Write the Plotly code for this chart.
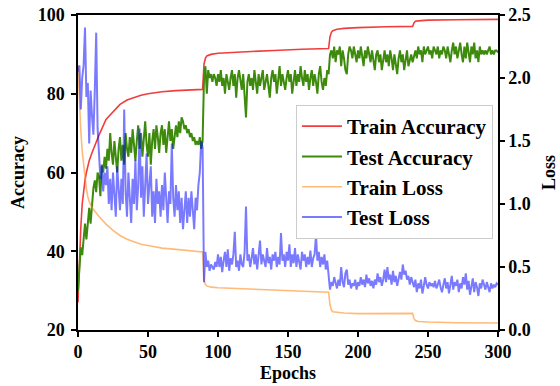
import plotly.graph_objects as go

# ---- data ----
train_epochs = [0, 1, 2, 3, 4, 5, 6, 7, 8, 10, 12, 15, 20, 25, 30, 35, 40, 45, 50, 60, 70, 80, 89,
                90, 91, 92, 95, 100, 120, 140, 160, 179,
                180, 181, 182, 185, 190, 200, 220, 239,
                240, 241, 243, 245, 250, 270, 300]
train_acc = [27, 38, 46, 52, 55.5, 58, 60, 61.5, 63, 65, 67, 69.5, 73.5, 75.5, 77.3, 78.4, 79.1, 79.6, 80, 80.5, 80.8, 81, 81.1,
             87.5, 89, 89.6, 90, 90.3, 90.7, 91, 91.3, 91.5,
             94.5, 95.6, 96, 96.4, 96.6, 96.8, 97, 97.1,
             98, 98.4, 98.5, 98.6, 98.7, 98.8, 98.9]
train_loss = [2.1, 1.8, 1.58, 1.42, 1.3, 1.2, 1.12, 1.06, 1.02, 0.97, 0.94, 0.9, 0.84, 0.79, 0.75, 0.72, 0.7, 0.68, 0.67, 0.65, 0.64, 0.63, 0.62,
              0.4, 0.36, 0.35, 0.34, 0.335, 0.325, 0.315, 0.305, 0.3,
              0.2, 0.16, 0.145, 0.14, 0.135, 0.13, 0.13, 0.132,
              0.09, 0.075, 0.068, 0.065, 0.063, 0.058, 0.055]

test_epochs = list(range(0, 301))
test_acc = [
    30, 36, 41, 39, 44, 47, 43, 48, 51, 47,
    53, 56, 58, 55, 60, 59, 54, 62, 60, 64,
    61, 66, 63, 70, 65, 62, 68, 64, 60, 66,
    69, 63, 67, 62, 70, 66, 64, 69, 65, 71,
    67, 63, 68, 72, 66, 70, 64, 69, 73, 67,
    64, 70, 62, 68, 71, 66, 72, 69, 65, 70,
    72, 67, 71, 65, 69, 73, 68, 71, 66, 70,
    72, 69, 73, 70, 74, 73, 71, 72, 70, 71,
    69, 70, 68, 69, 67, 68, 67, 69, 66, 68,
    84, 87, 80, 86, 84, 85, 83, 85, 84, 82,
    85, 83, 86, 82, 84, 80, 85, 83, 81, 84,
    86, 82, 85, 79, 84, 86, 83, 81, 85, 80,
    74, 83, 85, 82, 84, 81, 86, 83, 80, 85,
    82, 84, 86, 81, 83, 85, 82, 79, 84, 86,
    83, 85, 80, 84, 87, 82, 85, 83, 81, 84,
    86, 83, 85, 80, 84, 86, 82, 85, 83, 87,
    84, 82, 86, 83, 85, 81, 84, 86, 82, 85,
    83, 80, 85, 87, 83, 81, 84, 82, 86, 85,
    90, 91, 89, 92, 88, 91, 90, 92, 87, 91,
    89, 86, 85, 90, 92, 91, 89, 92, 90, 88,
    91, 89, 92, 90, 87, 91, 89, 92, 90, 88,
    91, 89, 86, 90, 91, 88, 90, 86, 89, 91,
    88, 90, 87, 91, 89, 86, 90, 88, 85, 89,
    91, 88, 90, 86, 89, 91, 87, 89, 90, 88,
    90, 91, 89, 92, 90, 91, 88, 92, 90, 91,
    92, 90, 91, 89, 92, 91, 90, 92, 89, 91,
    90, 92, 91, 89, 92, 90, 88, 91, 93, 90,
    92, 89, 91, 93, 90, 88, 92, 89, 93, 91,
    88, 92, 90, 93, 89, 91, 88, 92, 90, 91,
    90, 91, 90, 91, 92, 90, 91, 90, 91, 91,
    90.5]
test_loss = [
    2.05, 2.1, 1.75, 2.0, 2.1, 2.4, 1.85, 1.96, 1.48, 1.9,
    1.7, 1.55, 1.9, 2.36, 1.6, 1.35, 1.2, 1.3, 1.1, 1.25,
    1.15, 1.3, 1.0, 1.2, 0.95, 1.25, 1.05, 0.9, 1.3, 1.1,
    0.95, 1.2, 1.0, 1.75, 1.1, 0.9, 1.25, 1.05, 0.85, 1.2,
    1.0, 1.35, 0.95, 1.15, 1.6, 1.05, 1.3, 0.9, 1.2, 1.4,
    1.0, 1.15, 1.3, 0.9, 1.1, 0.85, 1.2, 1.0, 1.1, 0.9,
    1.15, 0.95, 1.25, 1.05, 0.85, 1.1, 1.0, 1.48, 1.05, 0.9,
    1.15, 0.95, 1.1, 0.85, 1.05, 0.8, 1.0, 1.1, 0.85, 1.05,
    0.9, 1.1, 0.95, 0.8, 1.05, 0.95, 1.15, 1.25, 1.5, 1.45,
    0.38, 0.62, 0.5, 0.55, 0.47, 0.52, 0.5, 0.48, 0.54, 0.5,
    0.6, 0.5, 0.58, 0.46, 0.55, 0.62, 0.5, 0.64, 0.47, 0.57,
    0.52, 0.6, 0.78, 0.5, 0.55, 0.47, 0.6, 0.52, 0.5, 0.62,
    0.98, 0.55, 0.6, 0.5, 0.57, 0.65, 0.52, 0.6, 0.48, 0.58,
    0.71, 0.52, 0.6, 0.55, 0.5, 0.65, 0.53, 0.58, 0.48, 0.6,
    0.55, 0.62, 0.5, 0.58, 0.52, 0.77, 0.55, 0.6, 0.5, 0.62,
    0.55, 0.68, 0.5, 0.6, 0.53, 0.65, 0.5, 0.6, 0.55, 0.48,
    0.62, 0.55, 0.6, 0.5, 0.58, 0.52, 0.63, 0.5, 0.57, 0.6,
    0.75, 0.55, 0.62, 0.5, 0.58, 0.52, 0.6, 0.48, 0.55, 0.45,
    0.32, 0.38, 0.35, 0.42, 0.36, 0.33, 0.4, 0.35, 0.5, 0.38,
    0.34, 0.45, 0.48, 0.36, 0.4, 0.33, 0.37, 0.35, 0.4, 0.32,
    0.38, 0.35, 0.42, 0.36, 0.4, 0.34, 0.44, 0.37, 0.41, 0.35,
    0.39, 0.33, 0.4, 0.36, 0.45, 0.38, 0.42, 0.35, 0.4, 0.48,
    0.38, 0.5, 0.4, 0.44, 0.36, 0.47, 0.38, 0.43, 0.35, 0.42,
    0.46, 0.4, 0.52, 0.44, 0.47, 0.4, 0.43, 0.36, 0.42, 0.38,
    0.34, 0.4, 0.3, 0.37, 0.33, 0.4, 0.29, 0.35, 0.42, 0.36,
    0.33, 0.38, 0.35, 0.37, 0.34, 0.39, 0.33, 0.36, 0.4, 0.34,
    0.3, 0.36, 0.41, 0.33, 0.38, 0.29, 0.36, 0.43, 0.32, 0.38,
    0.35, 0.4, 0.3, 0.37, 0.33, 0.42, 0.36, 0.45, 0.32, 0.39,
    0.28, 0.36, 0.41, 0.3, 0.38, 0.34, 0.27, 0.37, 0.33, 0.4,
    0.35, 0.32, 0.38, 0.34, 0.3, 0.37, 0.33, 0.36, 0.34, 0.37,
    0.36]

acc_ticks = [20, 40, 60, 80, 100]
loss_ticks = [0.0, 0.5, 1.0, 1.5, 2.0, 2.5]
epoch_ticks = [0, 50, 100, 150, 200, 250, 300]

FONT = "Liberation Serif"

fig = go.Figure()
fig.add_trace(go.Scatter(x=train_epochs, y=train_acc, name="Train Accuracy", mode="lines",
                         line=dict(color="rgba(240,40,40,0.9)", width=1.6), yaxis="y"))
fig.add_trace(go.Scatter(x=test_epochs, y=test_acc, name="Test Accuracy", mode="lines",
                         line=dict(color="#3d8a0c", width=2), yaxis="y"))
fig.add_trace(go.Scatter(x=train_epochs, y=train_loss, name="Train Loss", mode="lines",
                         line=dict(color="rgba(255,140,30,0.6)", width=1.6), yaxis="y2"))
fig.add_trace(go.Scatter(x=test_epochs, y=test_loss, name="Test Loss", mode="lines",
                         line=dict(color="rgba(0,0,255,0.52)", width=2), yaxis="y2"))

tickfont = dict(family=FONT, size=18, color="black", weight="bold")
titlefont = dict(family=FONT, size=18, color="black", weight="bold")

fig.update_layout(
    width=560, height=386,
    margin=dict(l=78, r=62, t=15, b=56),
    paper_bgcolor="white", plot_bgcolor="white",
    showlegend=True,
    legend=dict(x=0.519, y=0.7145, xanchor="left", yanchor="top",
                bgcolor="white", bordercolor="#cccccc", borderwidth=1,
                font=dict(family=FONT, size=21, color="black", weight="bold"),
                tracegroupgap=0, itemwidth=40),
    xaxis=dict(range=[0, 300], tickvals=epoch_ticks, showgrid=False, zeroline=False,
               showline=True, linecolor="black", linewidth=1.5, mirror=True,
               ticks="outside", ticklen=5, tickwidth=1.5, tickcolor="black", automargin=False,
               ticklabeloverflow="allow", ticklabelstandoff=0,
               tickfont=tickfont, title=dict(text="Epochs", font=titlefont, standoff=5)),
    yaxis=dict(range=[20, 100], tickvals=acc_ticks, showgrid=False, zeroline=False,
               showline=True, linecolor="black", linewidth=1.5, automargin=False,
               ticks="outside", ticklen=5, tickwidth=1.5, tickcolor="black",
               ticklabeloverflow="allow", ticklabelstandoff=3,
               tickfont=tickfont, title=dict(text="Accuracy", font=titlefont, standoff=8)),
    yaxis2=dict(range=[0, 2.5], tickvals=loss_ticks, tickformat=".1f", overlaying="y", side="right",
                showgrid=False, zeroline=False, automargin=False,
                showline=True, linecolor="black", linewidth=1.5,
                ticks="outside", ticklen=5, tickwidth=1.5, tickcolor="black",
                ticklabeloverflow="allow",
                tickfont=tickfont, title=dict(text="Loss", font=titlefont, standoff=13)),
)

fig.write_html("out.html", post_script="document.body.style.margin='0';",
               config={"displayModeBar": False})
